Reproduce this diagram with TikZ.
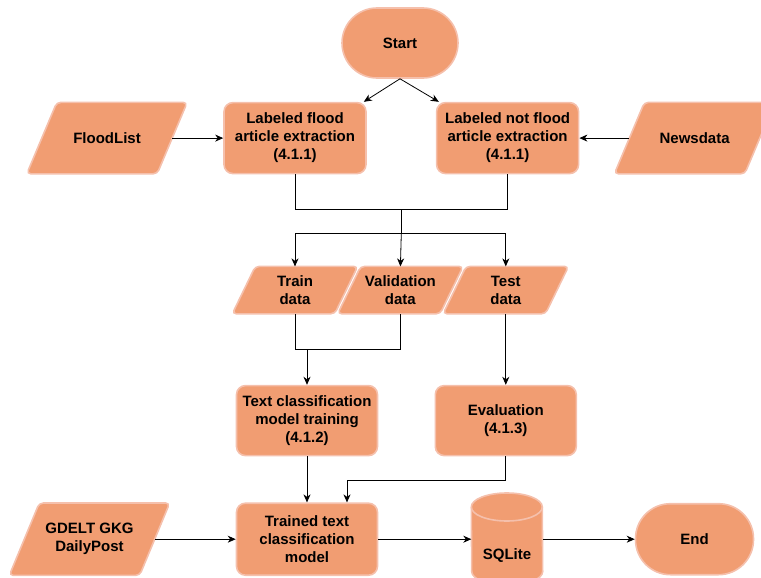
\documentclass[tikz,border=0pt]{standalone}
\usepackage{fontspec}
\setmainfont{Liberation Sans}
\usetikzlibrary{arrows.meta,positioning,calc,backgrounds}
\definecolor{boxfill}{RGB}{241,157,114}
\definecolor{boxline}{RGB}{245,192,172}
\tikzset{
  txt/.style={font=\fontsize{15pt}{18pt}\selectfont\bfseries,align=center,inner sep=0pt},
  base/.style={txt,draw=boxline,fill=boxfill,line width=1.6pt,inner sep=2pt},
  term/.style={base,rounded corners=35pt,minimum width=116pt,minimum height=70pt},
  proc/.style={base,rounded corners=9pt,minimum width=141pt,minimum height=70pt},
  io/.style={txt,minimum width=130pt,minimum height=71pt},
  dat/.style={txt,minimum width=102pt,minimum height=47pt},
  dbbox/.style={minimum width=71pt,minimum height=92pt,inner sep=0pt},
  dbline/.style={draw=boxline,fill=boxfill,line width=1.6pt},
  flow/.style={-{Stealth[length=8pt,width=7pt,inset=2.5pt]},line width=0.8pt},
  conn/.style={line width=0.8pt},
}
\begin{document}
\begin{tikzpicture}[x=1pt,y=-1pt]
  \useasboundingbox (0,0) rectangle (761,578);

  % top row
  \node[term] (start) at (400,43) {Start};
  \node[proc,below=23pt of start,xshift=-105pt,minimum width=142pt,minimum height=71pt] (flood)
    {Labeled flood\\article extraction\\(4.1.1)};
  \node[proc,right=69pt of flood,minimum width=142pt,minimum height=71pt] (notflood)
    {Labeled not flood\\article extraction\\(4.1.1)};
  \node[io,left=51pt of flood] (floodlist) {FloodList};
  \node[io,right=50pt of notflood] (newsdata) {Newsdata};

  % data split
  \node[dat,below=92pt of flood] (train) {Train\\data};
  \node[dat,right=3pt of train] (valid) {Validation\\data};
  \node[dat,right=3pt of valid] (test) {Test\\data};

  % training and evaluation
  \node[proc,below=71pt of train,xshift=12pt] (textcls)
    {Text classification\\model training\\(4.1.2)};
  \node[proc,below=71pt of test] (eval) {Evaluation\\(4.1.3)};

  % bottom row
  \node[proc,below=46pt of textcls,minimum height=72pt] (trained)
    {Trained text\\classification\\model};
  \node[io,left=81pt of trained,minimum height=72pt] (gdelt) {GDELT GKG\\DailyPost};
  \node[dbbox,right=93pt of trained] (sql) {};
  \draw[dbline] ([yshift=-14pt]sql.north west)
    arc[x radius=35.5pt,y radius=14pt,start angle=180,end angle=0]
    -- ([yshift=14pt]sql.south east)
    arc[x radius=35.5pt,y radius=14pt,start angle=0,end angle=-180] -- cycle;
  \draw[dbline,fill=none] ([yshift=-14pt]sql.north west)
    arc[x radius=35.5pt,y radius=14pt,start angle=180,end angle=360];
  \node[txt] (sqltxt) at ([yshift=-16pt]sql.center) {SQLite};
  \node[term,right=92pt of sql,minimum width=118pt,minimum height=71pt] (end) {End};

  % slanted input boxes
  \begin{scope}[on background layer]
    \foreach \n/\s in {floodlist/30,newsdata/30,gdelt/30,train/23,valid/23,test/23}
      \draw[dbline,rounded corners=4pt]
        ([xshift=-\s*0.5pt]\n.south west) -- ([xshift=\s*0.5pt]\n.north west)
        -- ([xshift=\s*0.5pt]\n.north east) -- ([xshift=-\s*0.5pt]\n.south east) -- cycle;
  \end{scope}

  \coordinate (split) at ($(flood.south)!.5!(notflood.south)+(0,-35pt)$);
  \coordinate (fan) at ($(split)+(0,-24pt)$);
  \coordinate (merge) at ($(train.south)+(0,-36pt)$);

  \draw[flow] (start.south) -- ([xshift=-3pt]flood.north east);
  \draw[flow] (start.south) -- ([xshift=3pt]notflood.north west);
  \draw[flow] (floodlist.east) -- (flood.west);
  \draw[flow] (newsdata.west) -- (notflood.east);
  \draw[conn] (flood.south) |- (split) -| (notflood.south);
  \draw[conn] (split) -- (fan);
  \draw[flow] (fan) -| (train.north);
  \draw[flow] (fan) -- (valid.north);
  \draw[flow] (fan) -| (test.north);
  \draw[conn] (train.south) -- (merge) -| (valid.south);
  \draw[flow] (merge -| textcls.north) -- (textcls.north);
  \draw[flow] (test.south) -- (eval.north);
  \draw[flow] (textcls.south) -- (trained.north);
  \draw[flow] (eval.south) -- ++(0,-24pt) -| ([xshift=40pt]trained.north);
  \draw[flow] (gdelt.east) -- (trained.west);
  \draw[flow] (trained.east) -- (sql.west);
  \draw[flow] (sql.east) -- (end.west);
\end{tikzpicture}
\end{document}
